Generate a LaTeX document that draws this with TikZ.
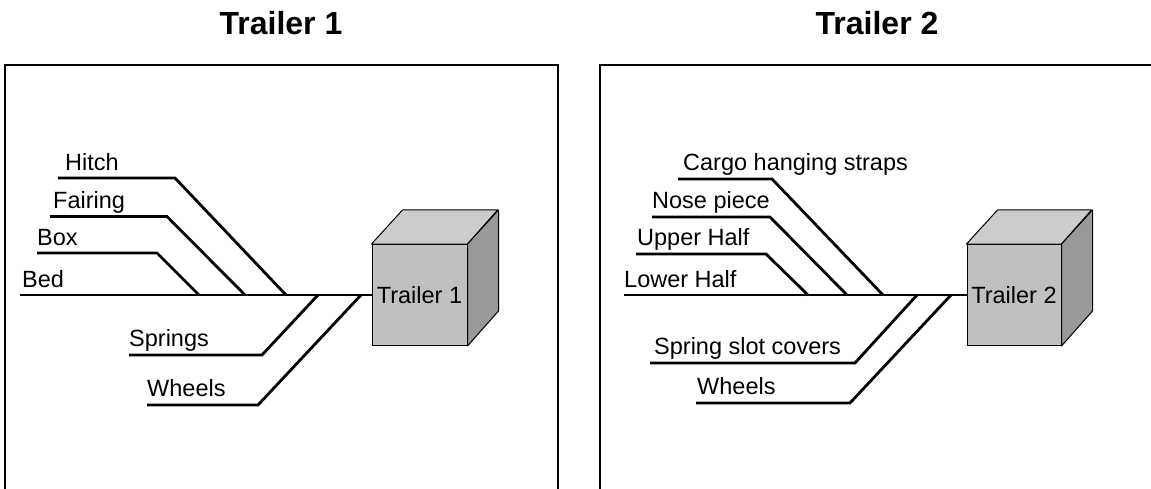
\documentclass[tikz,border=0pt]{standalone}
\usepackage{fontspec}
\setmainfont{Liberation Sans}
\definecolor{frontgray}{HTML}{C0C0C0}
\definecolor{topgray}{HTML}{CCCCCC}
\definecolor{sidegray}{HTML}{999999}
\begin{document}
\begin{tikzpicture}[x=1pt,y=-1pt,
  lbl/.style={anchor=base west,inner sep=0pt,font=\fontsize{23.5}{28}\selectfont},
  ttl/.style={anchor=base,inner sep=0pt,font=\fontsize{32}{38}\selectfont\bfseries},
  conn/.style={line width=2.8pt,line cap=butt,line join=miter},
  frame/.style={line width=1.3pt},
  cubefront/.style={draw=black,line width=1pt,fill=frontgray,minimum width=95pt,minimum height=101pt,inner sep=0pt,font=\fontsize{23.5}{28}\selectfont},
  cubeedge/.style={draw=black,line width=1pt,line join=round}]
\useasboundingbox (0,0) rectangle (1151,489);
% frames
\draw[frame] (5,500) -- (5,65) -- (558,65) -- (558,500);
\draw[frame] (600,500) -- (600,65) -- (1160,65);
% titles
\node[ttl] (title1) at (281,35) {Trailer 1};
\node[ttl] (title2) at (877,35) {Trailer 2};

% ---------- Trailer 1 ----------
\node[cubefront] (t1) at (419.5,295) {Trailer 1};
\filldraw[fill=topgray,cubeedge] (t1.north west) -- ++(31,-34) -- ++(95,0) -- (t1.north east) -- cycle;
\filldraw[fill=sidegray,cubeedge] (t1.north east) -- ++(31,-34) -- ++(0,101) -- (t1.south east) -- cycle;
\node[lbl] (hitch) at (65,170.5) {Hitch};
\node[lbl] (fairing) at (53,208.5) {Fairing};
\node[lbl] (box) at (37,245) {Box};
\node[lbl] (bed) at (22,287) {Bed};
\node[lbl] (springs) at (129,346.5) {Springs};
\node[lbl] (wheels1) at (147,396.5) {Wheels};
\coordinate (hitchL) at (58,178);
\coordinate (hitchB) at (175,178);
\coordinate (hitchJ) at (286,295);
\coordinate (fairL) at (50,216.5);
\coordinate (fairB) at (167,216.5);
\coordinate (fairJ) at (245,295);
\coordinate (boxL) at (37,253);
\coordinate (boxB) at (157,253);
\coordinate (boxJ) at (199,295);
\coordinate (bedL) at (20,295);
\coordinate (sprL) at (129,355);
\coordinate (sprB) at (262,355);
\coordinate (sprJ) at (318,295);
\coordinate (whL) at (147,405);
\coordinate (whB) at (258,405);
\coordinate (whJ) at (361,295);
\draw[conn] (bedL) -- (t1.west);
\draw[conn] (hitchL) -- (hitchB) -- (hitchJ);
\draw[conn] (fairL) -- (fairB) -- (fairJ);
\draw[conn] (boxL) -- (boxB) -- (boxJ);
\draw[conn] (sprL) -- (sprB) -- (sprJ);
\draw[conn] (whL) -- (whB) -- (whJ);

% ---------- Trailer 2 ----------
\node[cubefront,minimum width=94pt] (t2) at (1014,295) {Trailer 2};
\filldraw[fill=topgray,cubeedge] (t2.north west) -- ++(31,-34) -- ++(94,0) -- (t2.north east) -- cycle;
\filldraw[fill=sidegray,cubeedge] (t2.north east) -- ++(31,-34) -- ++(0,101) -- (t2.south east) -- cycle;
\node[lbl] (cargo) at (683,170.5) {Cargo hanging straps};
\node[lbl] (nose) at (652,208.5) {Nose piece};
\node[lbl] (upper) at (637,245.5) {Upper Half};
\node[lbl] (lower) at (624,287) {Lower Half};
\node[lbl] (slot) at (654,354.5) {Spring slot covers};
\node[lbl] (wheels2) at (697,394.5) {Wheels};
\coordinate (cargoL) at (678,179);
\coordinate (cargoB) at (772,179);
\coordinate (cargoJ) at (883,295);
\coordinate (noseL) at (652,217);
\coordinate (noseB) at (770,217);
\coordinate (noseJ) at (847,295);
\coordinate (upL) at (636,254);
\coordinate (upB) at (766,254);
\coordinate (upJ) at (808,295);
\coordinate (lowL) at (624,295);
\coordinate (slotL) at (650,363);
\coordinate (slotB) at (855,363);
\coordinate (slotJ) at (917,295);
\coordinate (wh2L) at (696,403);
\coordinate (wh2B) at (850,403);
\coordinate (wh2J) at (951,295);
\draw[conn] (lowL) -- (t2.west);
\draw[conn] (cargoL) -- (cargoB) -- (cargoJ);
\draw[conn] (noseL) -- (noseB) -- (noseJ);
\draw[conn] (upL) -- (upB) -- (upJ);
\draw[conn] (slotL) -- (slotB) -- (slotJ);
\draw[conn] (wh2L) -- (wh2B) -- (wh2J);
\end{tikzpicture}
\end{document}
